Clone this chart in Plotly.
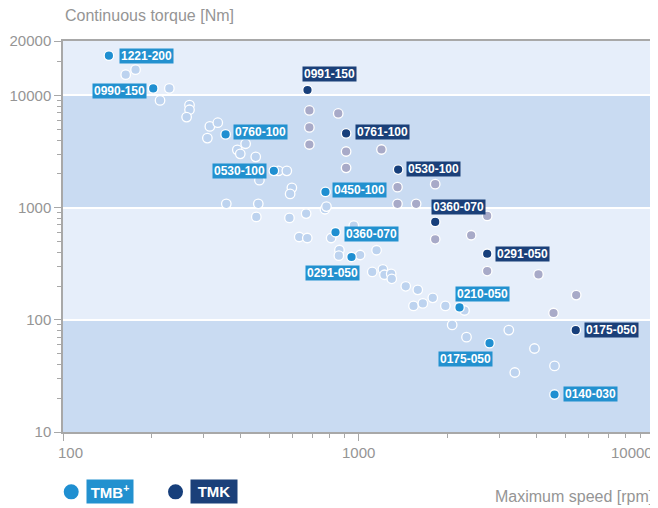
import numpy as np
import plotly.graph_objects as go

# ---------------- data ----------------
# TMB+ series (other sizes, unlabelled)
tmb_speed = [163, 176, 229, 213, 268, 268, 262, 314, 334, 308, 415, 389, 398, 449,
             536, 572, 462, 595, 587, 357, 458, 451, 584, 665, 630, 671, 770, 779,
             964, 808, 862, 858, 1013, 1151, 1113, 1209, 1224, 1290, 1296, 1445,
             1587, 1784, 1535, 1651, 1968, 2284, 2075, 2320, 3226, 3940, 3380, 4606]
tmb_torque = [15300, 16960, 11550, 9020, 8210, 7450, 6410, 5290, 5710, 4165, 3707, 3274,
              3016, 2836, 2127, 2127, 1757, 1500, 1325, 1080, 1080, 826, 809, 884, 547,
              536, 967, 1021, 690, 536, 419, 373, 378, 417, 267, 282, 252, 257, 232, 199,
              185, 157, 133, 140, 133, 121, 90, 70, 81, 55.5, 33.9, 38.8]

# TMB+ labelled models
tmb_hl_names = ["1221-200", "0990-150", "0760-100", "0530-100", "0450-100",
                "0360-070", "0291-050", "0210-050", "0175-050", "0140-030"]
tmb_hl_speed = [143, 202, 355, 517, 773, 836, 947, 2197, 2776, 4606]
tmb_hl_torque = [22600, 11550, 4490, 2127, 1381, 603, 363, 129, 61.9, 21.6]

# TMK series (other sizes, unlabelled)
tmk_speed = [682, 682, 682, 854, 908, 1196, 908, 1355, 1818, 1355, 1567, 2726,
             2406, 1818, 2726, 4065, 5454, 4571]
tmk_torque = [7345, 5180, 3650, 6905, 3162, 3296, 2262, 1521, 1618, 1080, 1080, 843,
              567, 522, 272, 254, 166, 115]

# TMK labelled models
tmk_hl_names = ["0991-150", "0761-100", "0530-100", "0360-070", "0291-050", "0175-050"]
tmk_hl_speed = [672, 908, 1362, 1818, 2726, 5435]
tmk_hl_torque = [11170, 4580, 2185, 745, 388, 80.9]

y_tickvals = [10, 100, 1000, 10000, 30550]
y_ticktext = ["10", "100", "1000", "10000", "20000"]
x_tickvals = [100, 1000, 10000]
x_ticktext = ["100", "1000", "10000"]

legend_names = ["TMB<sup>+</sup>", "TMK"]

# ---------------- styles ----------------
C_TMB = "#1f8fd1"
C_TMB_LIGHT = "#bdd3ef"
C_TMK = "#173f7b"
C_TMK_LIGHT = "#a8aac8"
C_LBL_TMB = "#2391cf"
C_LBL_TMK = "#1b4079"
BAND_LIGHT = "#e6eefa"
BAND_DARK = "#c9dbf2"
GREY = "#959595"
AXIS = "#a8a8a8"
LBL_FONT = "Liberation Sans, Arial, sans-serif"
TXT_FONT = "Liberation Sans, Arial, sans-serif"

# label placement relative to its point: (xanchor, xshift, yshift) in px
tmb_lbl_pos = {
    "1221-200": ("left", 10, 0),
    "0990-150": ("right", -6.5, -3),
    "0760-100": ("left", 7, 2.5),
    "0530-100": ("right", -7, 0),
    "0450-100": ("left", 7, 1.5),
    "0360-070": ("left", 8, -1.5),
    "0291-050": ("right", 8, -16),
    "0210-050": ("left", -5, 13.5),
    "0175-050": ("right", 3.5, -16),
    "0140-030": ("left", 8, 0),
}
tmk_lbl_pos = {
    "0991-150": ("left", -5.5, 16),
    "0761-100": ("left", 9, 1.5),
    "0530-100": ("left", 8, 0.5),
    "0360-070": ("left", -4.5, 15),
    "0291-050": ("left", 8, 0),
    "0175-050": ("left", 8.5, 0),
}
# x tick label placement (the end labels are kept inside the frame)
x_lbl_anchor = ["left", "center", "right"]
x_lbl_shift = [-7.5, 0, 0.5]

fig = go.Figure()

mk = dict(size=9.5, line=dict(color="white", width=1.3))
fig.add_trace(go.Scatter(x=tmb_speed, y=tmb_torque, mode="markers",
                         marker=dict(color=C_TMB_LIGHT, **mk), showlegend=False, hoverinfo="x+y"))
fig.add_trace(go.Scatter(x=tmk_speed, y=tmk_torque, mode="markers",
                         marker=dict(color=C_TMK_LIGHT, **mk), showlegend=False, hoverinfo="x+y"))
fig.add_trace(go.Scatter(x=tmb_hl_speed, y=tmb_hl_torque, mode="markers", text=tmb_hl_names,
                         marker=dict(color=C_TMB, **mk), showlegend=False))
fig.add_trace(go.Scatter(x=tmk_hl_speed, y=tmk_hl_torque, mode="markers", text=tmk_hl_names,
                         marker=dict(color=C_TMK, **mk), showlegend=False))

annotations = []


def add_labels(names, xs, ys, pos, bg):
    for n, xv, yv in zip(names, xs, ys):
        xa, dx, dy = pos[n]
        annotations.append(dict(
            x=np.log10(xv), y=np.log10(yv), xref="x", yref="y", text="<b>%s</b>" % n,
            showarrow=False, xanchor=xa, yanchor="middle", xshift=dx, yshift=dy,
            bgcolor=bg, width=53, height=14, borderpad=0, align="center",
            font=dict(family=LBL_FONT, size=12, color="white")))


add_labels(tmb_hl_names, tmb_hl_speed, tmb_hl_torque, tmb_lbl_pos, C_LBL_TMB)
add_labels(tmk_hl_names, tmk_hl_speed, tmk_hl_torque, tmk_lbl_pos, C_LBL_TMK)

# x tick labels
for tv, tt, xa, dx in zip(x_tickvals, x_ticktext, x_lbl_anchor, x_lbl_shift):
    annotations.append(dict(x=np.log10(tv), y=-0.0537, xref="x", yref="paper", xanchor=xa,
                            yanchor="middle", xshift=dx, showarrow=False, text=tt,
                            font=dict(family=TXT_FONT, size=15, color=GREY)))

# axis titles
annotations.append(dict(x=0.0, y=1.066, xref="paper", yref="paper", xanchor="left",
                        yanchor="middle", showarrow=False, text="Continuous torque [Nm]",
                        font=dict(family=TXT_FONT, size=16, color=GREY)))
annotations.append(dict(x=1.002, y=-0.166, xref="paper", yref="paper", xanchor="right",
                        yanchor="middle", showarrow=False, text="Maximum speed [rpm]",
                        font=dict(family=TXT_FONT, size=16, color=GREY)))

# legend boxes
leg_colors = [C_TMB, C_TMK]
leg_box_bg = [C_LBL_TMB, C_LBL_TMK]
leg_x = [0.0139, 0.1904]      # circle centres (paper)
for nm, c, bg, lx in zip(legend_names, leg_colors, leg_box_bg, leg_x):
    annotations.append(dict(x=lx, y=-0.153, xref="paper", yref="paper", xanchor="left",
                            yanchor="middle", xshift=14.5, showarrow=False,
                            text="<b>%s</b>" % nm, bgcolor=bg, width=46, height=23, borderpad=0,
                            font=dict(family=LBL_FONT, size=15, color="white")))

shapes = [
    dict(type="rect", xref="paper", x0=0, x1=1, yref="y", y0=10, y1=100,
         fillcolor=BAND_DARK, line=dict(width=0), layer="below"),
    dict(type="rect", xref="paper", x0=0, x1=1, yref="y", y0=1000, y1=10000,
         fillcolor=BAND_DARK, line=dict(width=0), layer="below"),
]
for c, lx in zip(leg_colors, leg_x):
    shapes.append(dict(type="circle", xref="paper", yref="paper", xsizemode="pixel",
                       ysizemode="pixel", xanchor=lx, yanchor=-0.153, x0=-7.5, x1=7.5,
                       y0=-7.5, y1=7.5, fillcolor=c, line=dict(width=0)))

# page body has an 8px default margin, so the figure is 8px smaller than the window
fig.update_layout(
    width=650, height=500,
    margin=dict(l=55, r=4, t=33, b=76),
    paper_bgcolor="white", plot_bgcolor=BAND_LIGHT,
    showlegend=False,
    annotations=annotations, shapes=shapes,
    font=dict(family=TXT_FONT, color=GREY),
    xaxis=dict(type="log", range=[2, 4], tickmode="array", tickvals=x_tickvals,
               showticklabels=False, ticks="outside", ticklen=7, tickcolor=AXIS, tickwidth=1.2,
               showline=True, linecolor=AXIS, linewidth=1.5, mirror=True,
               showgrid=False, zeroline=False, automargin=False,
               minor=dict(ticks="outside", ticklen=4, tickcolor=AXIS, dtick="D1", showgrid=False)),
    yaxis=dict(type="log", range=[1, np.log10(30550)], tickmode="array", tickvals=y_tickvals,
               ticktext=y_ticktext, ticks="outside", ticklen=7, tickcolor=AXIS, tickwidth=1.2,
               showline=True, linecolor=AXIS, linewidth=1.5, mirror=True,
               showgrid=True, gridcolor="white", gridwidth=2, zeroline=False, automargin=False,
               tickfont=dict(family=TXT_FONT, size=15, color=GREY),
               minor=dict(ticks="outside", ticklen=4, tickcolor=AXIS, dtick="D1", showgrid=False)),
)

fig.write_html("out.html")
